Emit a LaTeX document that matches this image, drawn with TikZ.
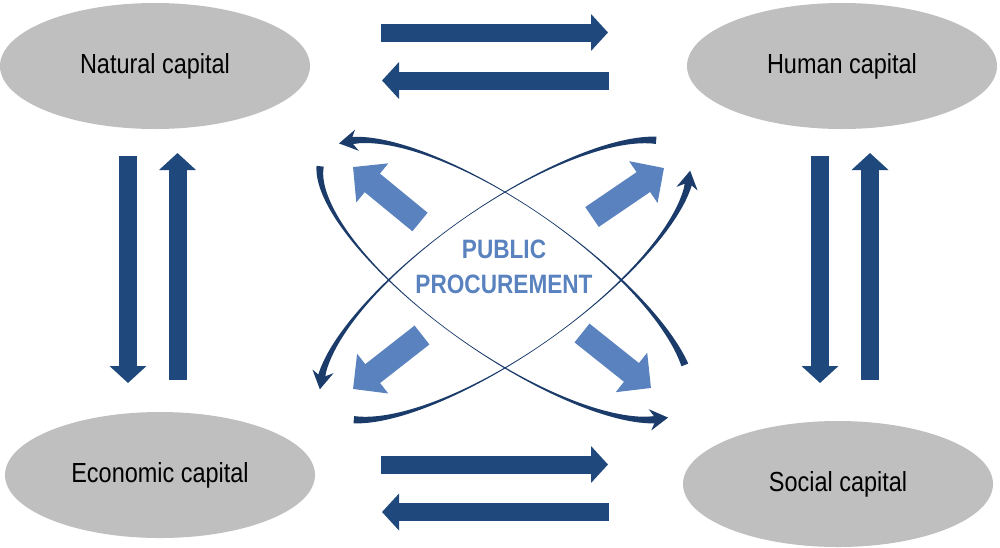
\documentclass[tikz,border=0pt]{standalone}
\usepackage{fontspec}
\setmainfont{Liberation Sans}
\newfontfamily\capfont[FakeStretch=0.85]{Liberation Sans}
\usetikzlibrary{arrows.meta, shapes.geometric}

\definecolor{capgray}{RGB}{191,191,191}
\definecolor{flownavy}{RGB}{31,73,125}
\definecolor{swooshnavy}{RGB}{27,60,106}
\definecolor{pubblue}{RGB}{89,130,191}

\begin{document}
\begin{tikzpicture}[x=0.5pt, y=-0.5pt,
    capital/.style={ellipse, fill=capgray, minimum width=155pt, minimum height=63pt, inner sep=0pt,
      font=\capfont\fontsize{13.8}{16}\selectfont},
    flow/.style={flownavy, line width=9pt, -{Triangle[length=8.5pt, width=18pt]}},
    push/.style={pubblue, line width=12pt, -{Triangle[length=12.5pt, width=24.5pt]}},
    swtip/.style={swooshnavy, line width=3pt, -{Stealth[length=9pt, width=10.5pt, inset=3pt]}},
    declare function={nrm(\s)=sqrt((0.74*cos(\s))^2+(2.2*sin(\s))^2);
      wid(\s,\p,\q)=0.35+3.3*((2*\s-\p-\q)/(\q-\p))^2;}]

	\useasboundingbox (0,0) rectangle (1000,547);

	% The four capitals
	\node[capital] (natural)  at (155,66)  {Natural capital};
	\node[capital] (human)    at (842,66)  {Human capital};
	\node[capital] (economic) at (160,475) {Economic capital};
	\node[capital] (social)   at (838,484) {Social capital};

	% End points of the flows between capitals
	\coordinate (nh_a) at (381,32.5);  \coordinate (nh_b) at (608,32.5);
	\coordinate (hn_a) at (609,80.5);  \coordinate (hn_b) at (382,80.5);
	\coordinate (es_a) at (381,464.5); \coordinate (es_b) at (608,464.5);
	\coordinate (se_a) at (609,512);   \coordinate (se_b) at (382,512);
	\coordinate (ne_a) at (128,156);   \coordinate (ne_b) at (128,383);
	\coordinate (en_a) at (177.5,380); \coordinate (en_b) at (177.5,153);
	\coordinate (hs_a) at (820,156);   \coordinate (hs_b) at (820,383);
	\coordinate (sh_a) at (870,380);   \coordinate (sh_b) at (870,153);

	\foreach \f in {nh, hn, es, se, ne, en, hs, sh}
		\draw[flow] (\f_a) -- (\f_b);

	% Public procurement in the middle
	\node[text=pubblue, align=center, font=\capfont\bfseries\fontsize{13.3}{17.5}\selectfont]
		(pp) at (504,267) {PUBLIC\\PROCUREMENT};

	% Arrows pushing out of the middle
	\coordinate (ul_tail) at (420,222); \coordinate (ul_tip) at (353,167);
	\coordinate (ur_tail) at (592,217); \coordinate (ur_tip) at (664,168);
	\coordinate (ll_tail) at (422,335); \coordinate (ll_tip) at (353,389);
	\coordinate (lr_tail) at (582,333); \coordinate (lr_tip) at (651,388);

	\foreach \d in {ul, ur, ll, lr}
		\draw[push] (\d_tail) -- (\d_tip);

	% Two crossing orbits, each made of two tapered arcs
	\foreach \ang/\ta/\tb/\tc/\td in {35/22/160/202/340, -35/27/160/190/338} {
		\begin{scope}[shift={(505,280)}, rotate=\ang, yscale=-1]
			\foreach \a/\b in {\ta/\tb, \tc/\td} {
				\fill[swooshnavy]
					plot[variable=\t, domain=\a:\b, samples=60, smooth]
						({220*cos(\t)+wid(\t,\a,\b)*0.74*cos(\t)/nrm(\t)}, {74*sin(\t)+wid(\t,\a,\b)*2.2*sin(\t)/nrm(\t)})
					-- plot[variable=\t, domain=\b:\a, samples=60, smooth]
						({220*cos(\t)-wid(\t,\a,\b)*0.74*cos(\t)/nrm(\t)}, {74*sin(\t)-wid(\t,\a,\b)*2.2*sin(\t)/nrm(\t)})
					-- cycle;
				\draw[swtip] ({220*cos(\b-4)},{74*sin(\b-4)}) -- ({220*cos(\b+7)},{74*sin(\b+7)});
			}
		\end{scope}
	}

\end{tikzpicture}
\end{document}
